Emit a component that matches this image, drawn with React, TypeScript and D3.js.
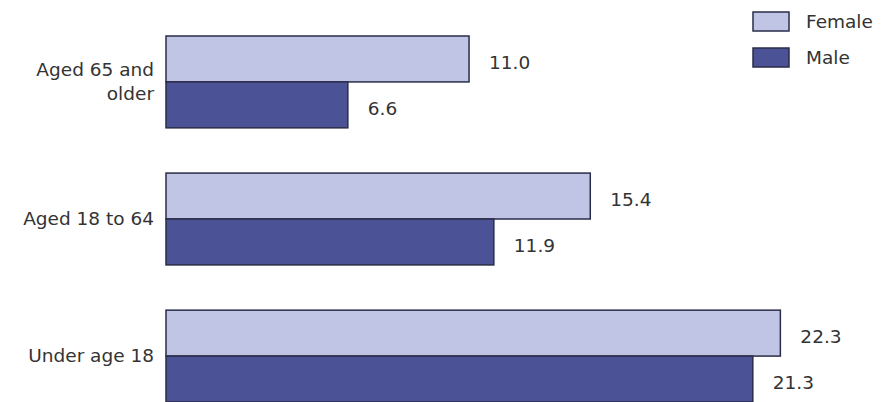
import React, { useEffect } from "react";
import * as d3 from "d3";

const categories = ["Aged 65 and older", "Aged 18 to 64", "Under age 18"];
const categoryLines = [["Aged 65 and", "older"], ["Aged 18 to 64"], ["Under age 18"]];
const series = ["Female", "Male"];
const female = [11.0, 15.4, 22.3];
const male = [6.6, 11.9, 21.3];
const seriesColors = ["#c1c5e5", "#4b5295"];

const W = 884;
const H = 402;

export default function App() {
  useEffect(() => {
    document.body.style.margin = "0";
  }, []);

  const x = d3.scaleLinear().domain([0, 25]).range([166, 166 + 25 * 27.55]);
  const y = d3.scaleBand<string>().domain(categories).range([36, 402]).paddingInner(0.33).paddingOuter(0);
  const inner = d3.scaleBand<string>().domain(series).range([0, y.bandwidth()]).padding(0);
  const values = [female, male];
  const font = "'DejaVu Sans', sans-serif";
  const fs = 18.5;

  return (
    <svg width={W} height={H} style={{ display: "block", background: "#fff" }}>
      {categories.map((c, i) => {
        const lines = categoryLines[i];
        const cy = (y(c) as number) + y.bandwidth() / 2;
        const lh = 24;
        const start = cy - ((lines.length - 1) * lh) / 2 + 6;
        return (
          <g key={c}>
            {lines.map((ln, j) => (
              <text key={j} x={154} y={start + j * lh} textAnchor="end" fontFamily={font} fontSize={fs} fill="#333">
                {ln}
              </text>
            ))}
            {series.map((s, k) => {
              const v = values[k][i];
              const by = (y(c) as number) + (inner(s) as number);
              return (
                <g key={s}>
                  <rect
                    x={x(0)}
                    y={by}
                    width={x(v) - x(0)}
                    height={inner.bandwidth()}
                    fill={seriesColors[k]}
                    stroke="#2a2d48"
                    strokeWidth={1.5}
                  />
                  <text x={x(v) + 20} y={by + inner.bandwidth() / 2 + 10} fontFamily={font} fontSize={fs} fill="#333">
                    {v.toFixed(1)}
                  </text>
                </g>
              );
            })}
          </g>
        );
      })}
      {series.map((s, k) => (
        <g key={s} transform={`translate(753, ${12 + k * 36})`}>
          <rect x={0} y={0} width={36} height={19} fill={seriesColors[k]} stroke="#2a2d48" strokeWidth={1.5} />
          <text x={53} y={16} fontFamily={font} fontSize={fs} fill="#333">
            {s}
          </text>
        </g>
      ))}
    </svg>
  );
}
